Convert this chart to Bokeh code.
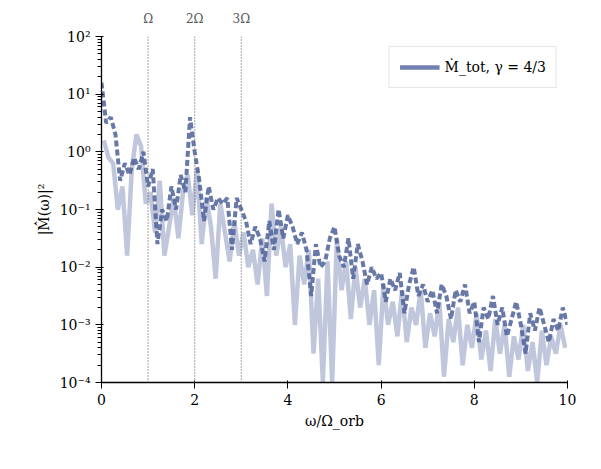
import numpy as np
from bokeh.plotting import figure
from bokeh.models import LinearAxis, FixedTicker, Span, Range1d, Legend, LegendItem
from bokeh.embed import file_html
from bokeh.resources import INLINE

x_dark = [round(0.1*i, 2) for i in range(101)]
logy_dark = [1.2,0.5,0.6,0.3,-0.5,-0.2,-0.4,-0.1,-0.3,0.0,
             -0.6,-0.3,-1.6,-1.0,-1.2,-0.6,-1.0,-0.4,-0.7,0.6,
             0.0,-0.5,-1.2,-0.6,-1.0,-0.8,-0.9,-0.8,-1.7,-0.8,
             -1.0,-1.2,-1.6,-1.3,-1.5,-1.9,-1.2,-1.7,-1.0,-1.5,
             -1.1,-1.3,-1.6,-1.4,-1.7,-2.5,-1.6,-2.0,-1.9,-1.5,
             -1.3,-1.8,-2.0,-1.5,-2.2,-1.6,-1.9,-2.3,-2.0,-2.2,
             -2.1,-2.6,-2.2,-2.4,-2.1,-2.8,-2.3,-2.0,-2.5,-2.3,
             -2.6,-2.4,-2.8,-2.3,-2.5,-2.9,-2.4,-2.6,-2.3,-2.8,
             -2.6,-3.3,-2.7,-2.9,-2.5,-3.0,-2.7,-3.2,-2.9,-2.6,
             -3.0,-3.5,-2.8,-3.1,-2.7,-3.0,-3.3,-2.9,-3.1,-2.7,-3.0]
x_light = [round(0.05+0.1*i, 2) for i in range(100)]
logy_light = [0.2,-0.1,-0.2,-1.0,-0.6,-1.8,-0.3,0.3,0.1,-0.9,
              -0.7,-1.4,-0.5,-1.8,-1.3,-0.8,-1.5,-0.7,-0.4,-1.1,
              -0.3,-1.6,-0.8,-1.3,-2.2,-0.9,-1.4,-1.9,-1.2,-1.8,
              -1.4,-2.0,-1.7,-2.3,-1.5,-2.5,-0.9,-1.8,-1.3,-2.0,
              -1.6,-3.0,-1.8,-2.3,-1.7,-3.5,-2.2,-4.0,-1.9,-4.0,
              -1.5,-2.4,-1.9,-2.9,-2.0,-2.7,-2.2,-3.0,-2.4,-3.7,
              -2.3,-3.0,-2.6,-3.2,-2.4,-3.3,-2.7,-3.0,-2.4,-3.4,
              -2.8,-3.2,-2.6,-3.9,-2.9,-3.3,-2.7,-3.7,-3.0,-3.4,
              -2.8,-3.6,-3.1,-3.8,-2.9,-3.5,-3.0,-3.9,-3.2,-3.6,
              -3.0,-3.8,-3.3,-4.0,-3.1,-3.7,-3.2,-3.5,-3.0,-3.4]
harmonics = [1, 2, 3]
harmonic_labels = ["Ω", "2Ω", "3Ω"]
ytick_exps = [-4, -3, -2, -1, 0, 1, 2]

FONT = "DejaVu Serif"
p = figure(frame_width=466, frame_height=346, y_axis_type="log",
           x_range=Range1d(0, 10), y_range=Range1d(1e-4, 1e2),
           output_backend="svg", toolbar_location=None,
           min_border_left=101, min_border_right=18, min_border_top=36, min_border_bottom=60)
p.outline_line_color = None
p.xgrid.visible = False
p.ygrid.visible = False

p.line(x_light, [10**v for v in logy_light], line_color="#b9c0d8", line_width=4.5, line_alpha=0.9)
p.line(x_dark, [10**v for v in logy_dark], line_color="#4d6299", line_width=4, line_alpha=0.85,
       line_dash="6 3")
dummy = p.line([np.nan], [np.nan], line_color="#7080b0", line_width=4.5)
for h in harmonics:
    p.add_layout(Span(location=h, dimension="height", line_color="#666666",
                      line_dash="1 2", line_width=1.2))

leg = Legend(items=[LegendItem(label="Ṁ_tot, γ = 4/3", renderers=[dummy])],
             location="top_right", label_text_font=FONT, label_text_font_size="14px",
             label_text_color="black",
             border_line_color="#cccccc", border_line_width=1.5, glyph_width=40,
             background_fill_alpha=0.9)
p.add_layout(leg)

for ax in (p.xaxis[0], p.yaxis[0]):
    ax.major_label_text_font = FONT
    ax.major_label_text_font_size = "14px"
    ax.major_label_text_color = "black"
    ax.axis_label_text_font = FONT
    ax.axis_label_text_font_size = "14px"
    ax.axis_label_text_font_style = "normal"
    ax.axis_label_text_color = "black"
    ax.axis_line_width = 1.3
    ax.axis_line_color = "black"
    ax.major_tick_line_color = "black"
    ax.minor_tick_line_color = "black"
p.xaxis.ticker = FixedTicker(ticks=[0, 2, 4, 6, 8, 10])
p.xaxis.axis_label = "ω/Ω_orb"
p.yaxis.axis_label = "|M̂̇(ω)|²"
sup = {"-": "⁻", "0": "⁰", "1": "¹", "2": "²", "3": "³", "4": "⁴"}
p.yaxis.ticker = FixedTicker(ticks=[10.0**e for e in ytick_exps],
                             minor_ticks=[m*10.0**e for e in ytick_exps[:-1] for m in range(2, 10)])
p.yaxis.major_label_overrides = {10.0**e: "10" + "".join(sup[c] for c in str(e)) for e in ytick_exps}

top = LinearAxis(ticker=FixedTicker(ticks=harmonics),
                 major_label_overrides={h: l for h, l in zip(harmonics, harmonic_labels)},
                 axis_line_color=None, major_tick_line_color=None, minor_tick_line_color=None,
                 major_label_text_font=FONT, major_label_text_font_size="12px",
                 major_label_text_color="#555555")
p.add_layout(top, "above")

open("out.html", "w").write(file_html(p, INLINE))
